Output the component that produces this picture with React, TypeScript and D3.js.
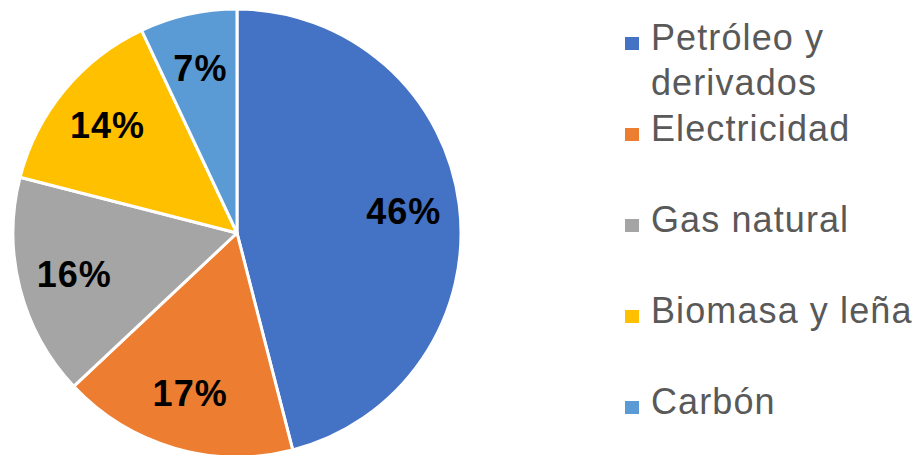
import * as d3 from "d3";

// energy consumption shares (%)
const categories = ["Petróleo y derivados", "Electricidad", "Gas natural", "Biomasa y leña", "Carbón"];
const values = [46, 17, 16, 14, 7];
const colors = ["#4472C4", "#ED7D31", "#A5A5A5", "#FFC000", "#5B9BD5"];
// legend lines (first entry wraps in two lines)
const legendLines = [["Petróleo y", "derivados"], ["Electricidad"], ["Gas natural"], ["Biomasa y leña"], ["Carbón"]];

const W = 917;
const H = 455;
const cx = 237;
const cy = 233;
const r = 224;

export default function App() {
  const pie = d3
    .pie<number>()
    .sort(null)
    .value((d) => d);
  const arcs = pie(values);
  const arc = d3.arc<d3.PieArcDatum<number>>().innerRadius(0).outerRadius(r);
  const labelArc = d3.arc<d3.PieArcDatum<number>>().innerRadius(r * 0.75).outerRadius(r * 0.75);

  const legendX = 625;
  const legendTop = 50; // first baseline
  const slot = 91;
  const lineH = 45;

  return (
    <svg
      width={W}
      height={H}
      style={{ position: "absolute", left: 0, top: 0, background: "#fff" }}
      fontFamily="'Liberation Sans', Arial, sans-serif"
    >
      <g transform={`translate(${cx},${cy})`}>
        {arcs.map((a, i) => (
          <path key={categories[i]} d={arc(a) ?? ""} fill={colors[i]} stroke="#fff" strokeWidth={3} strokeLinejoin="round" />
        ))}
        {arcs.map((a, i) => {
          const [x, y] = labelArc.centroid(a);
          return (
            <text
              key={"l" + i}
              x={x}
              y={y + 12}
              textAnchor="middle"
              fontSize={36}
              fontWeight="bold"
              letterSpacing={1}
              fill="#000"
            >
              {values[i]}%
            </text>
          );
        })}
      </g>
      <g>
        {legendLines.map((lines, i) => {
          const base = legendTop + i * slot;
          return (
            <g key={"leg" + i}>
              <rect x={legendX} y={base - 13} width={14} height={13} fill={colors[i]} />
              {lines.map((t, j) => (
                <text key={j} x={legendX + 26} y={base + j * lineH} fontSize={36} letterSpacing={1.1} fill="#595959">
                  {t}
                </text>
              ))}
            </g>
          );
        })}
      </g>
    </svg>
  );
}
